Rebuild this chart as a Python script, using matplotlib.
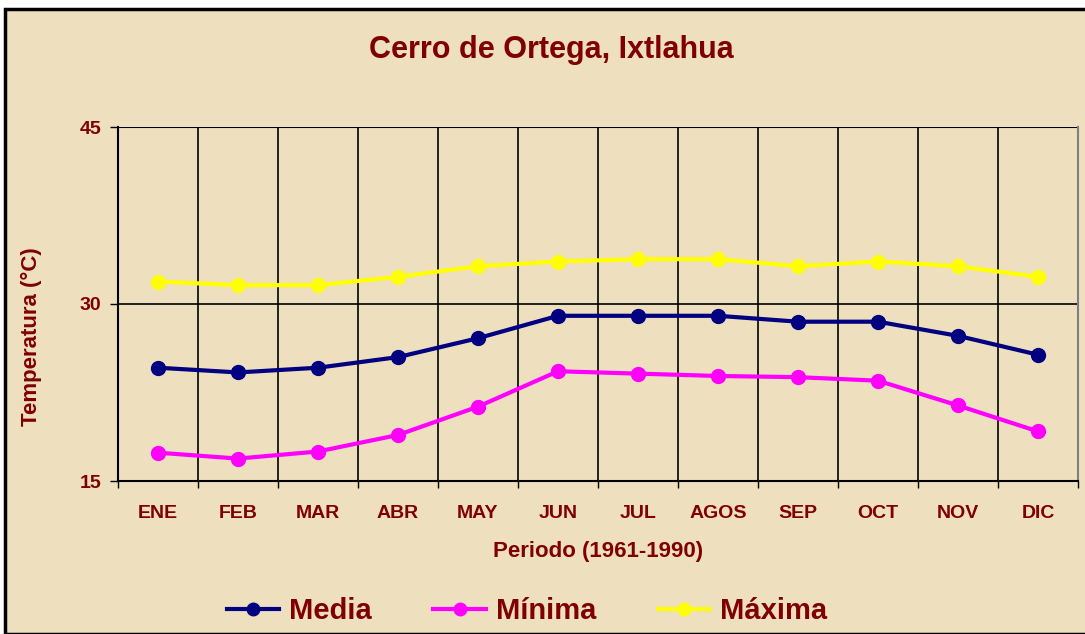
import matplotlib
matplotlib.use("Agg")
import matplotlib.pyplot as plt
from matplotlib.patches import Rectangle

plt.rcParams['font.family'] = ['Liberation Sans', 'DejaVu Sans']

meses = ['ENE', 'FEB', 'MAR', 'ABR', 'MAY', 'JUN', 'JUL', 'AGOS', 'SEP', 'OCT', 'NOV', 'DIC']
media = [24.6, 24.2, 24.6, 25.5, 27.1, 29.0, 29.0, 29.0, 28.5, 28.5, 27.3, 25.7]
minima = [17.4, 16.9, 17.5, 18.9, 21.3, 24.3, 24.1, 23.9, 23.8, 23.5, 21.4, 19.2]
maxima = [31.9, 31.6, 31.6, 32.3, 33.2, 33.6, 33.8, 33.8, 33.2, 33.6, 33.2, 32.3]
y_ticks = [15, 30, 45]

rojo = '#800000'
fondo = '#EEDFBF'

fig = plt.figure(figsize=(10.85, 6.34), dpi=100, facecolor='white')
# parchment panel with black frame, behind everything
fig.patches.append(Rectangle((5 / 1085, 0), 1.0, 1 - 9 / 634, transform=fig.transFigure,
                             facecolor=fondo, edgecolor='black', linewidth=2.5, zorder=-10))

ax = fig.add_axes([118 / 1085, 1 - 481 / 634, 960 / 1085, 354 / 634])
ax.set_facecolor('none')
ax.set_zorder(1)

x = range(len(meses))
ax.plot(x, media, color='#000080', lw=3, marker='o', ms=10, label='Media', zorder=3)
ax.plot(x, minima, color='#FF00FF', lw=3, marker='o', ms=10, label='Mínima', zorder=3)
ax.plot(x, maxima, color='#FFFF00', lw=3, marker='o', ms=10, label='Máxima', zorder=3)

ax.set_xlim(-0.5, len(meses) - 0.5)
ax.set_ylim(15, 45)

# vertical grid at category boundaries, horizontal at major ticks
for b in range(1, len(meses)):
    ax.axvline(b - 0.5, color='black', lw=1.2, zorder=1)
ax.axhline(30, color='black', lw=1.2, zorder=1)
ax.axhline(45, color='black', lw=1.5, zorder=1)

ax.set_yticks(y_ticks)
ax.set_yticklabels([str(v) for v in y_ticks], fontsize=14, fontweight='bold', color=rojo)
ax.set_xticks([i - 0.5 for i in range(len(meses) + 1)], minor=False)
ax.set_xticklabels([])
ax.set_xticks(list(x), minor=True)
ax.set_xticklabels(meses, minor=True, fontsize=14, fontweight='bold', color=rojo)
ax.tick_params(axis='x', which='major', length=5, width=1, direction='out')
ax.tick_params(axis='x', which='minor', length=0, pad=17)
ax.tick_params(axis='y', length=6, width=1, direction='out', pad=6)

for s in ['left', 'bottom']:
    ax.spines[s].set_linewidth(1.5)
ax.spines['top'].set_visible(False)
ax.spines['right'].set_color('#808080')
ax.spines['right'].set_linewidth(1.5)

ax.set_xlabel('Periodo (1961-1990)', fontsize=16, fontweight='bold', color=rojo, labelpad=14)
ax.set_ylabel('Temperatura (°C)', fontsize=16, fontweight='bold', color=rojo)
ax.yaxis.set_label_coords(-0.079, 0.407)

fig.text(551 / 1085, 1 - 50 / 634, 'Cerro de Ortega, Ixtlahua', ha='center', va='center',
         fontsize=22, fontweight='bold', color=rojo)

leg = fig.legend(loc='center', bbox_to_anchor=(527 / 1085, 1 - 611 / 634), ncol=3,
                 frameon=False, fontsize=21, handlelength=1.8, columnspacing=2.1,
                 handletextpad=0.35, markerscale=0.9)
for t in leg.get_texts():
    t.set_color(rojo)
    t.set_fontweight('bold')

fig.savefig('out.png', dpi=100, facecolor=fig.get_facecolor())
